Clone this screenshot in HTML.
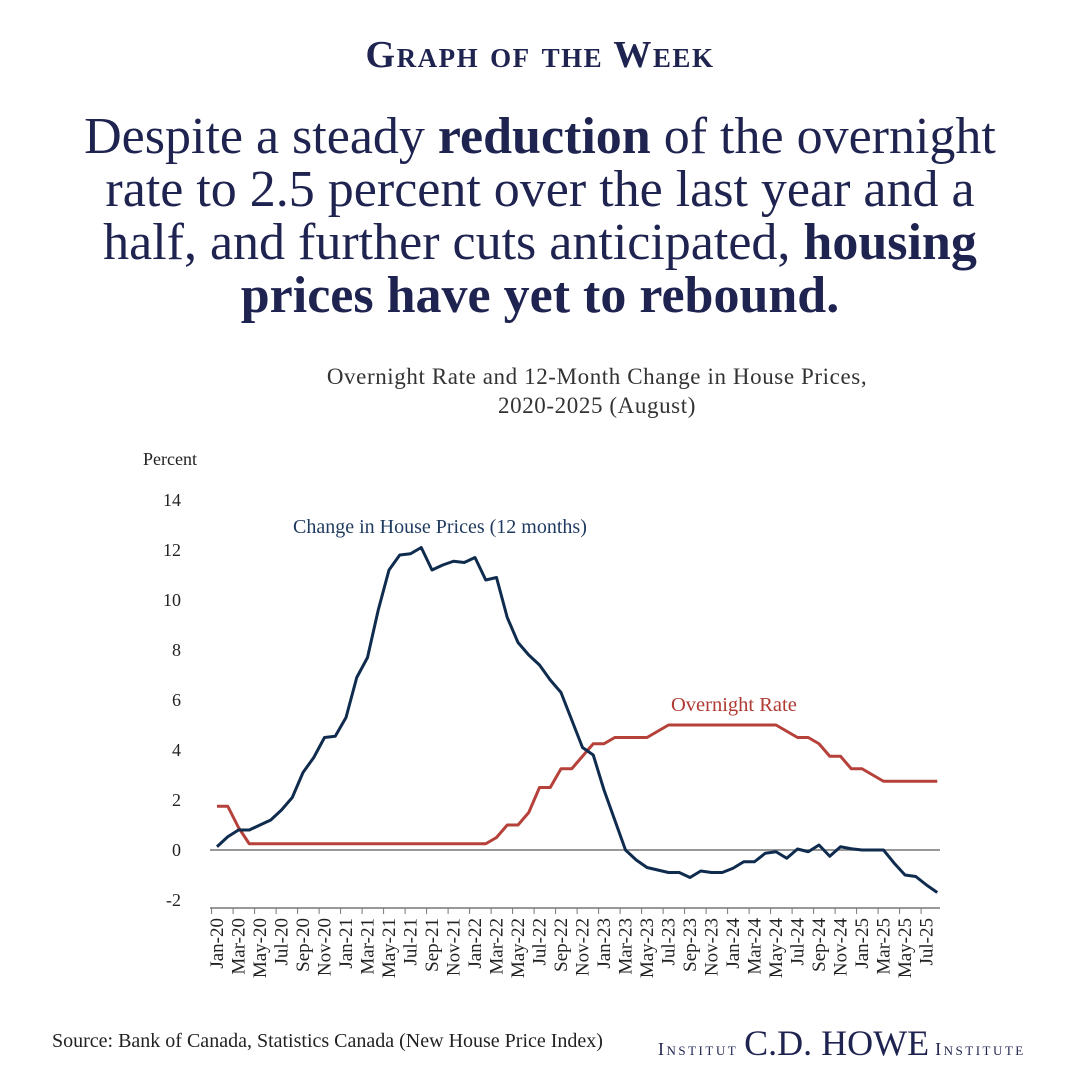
<!DOCTYPE html>
<html><head><meta charset="utf-8"><style>
body{margin:0;background:#fff;}
#wrap{position:relative;width:1080px;height:1080px;overflow:hidden;background:#fff;font-family:"Liberation Serif",serif;}
.abs{position:absolute;}
</style></head><body>
<div id="wrap">
<div class="abs" style="left:0;width:1080px;top:33px;text-align:center;color:#1f2350;font-size:38px;font-variant:small-caps;font-weight:bold;letter-spacing:1.5px;">Graph of the Week</div>
<div class="abs" style="left:0;width:1080px;top:110px;text-align:center;color:#1f2350;font-size:52px;line-height:53px;white-space:nowrap;">Despite a steady <b>reduction</b> of the overnight<br>rate to 2.5 percent over the last year and a<br>half, and further cuts anticipated, <b>housing</b><br><b>prices have yet to rebound.</b></div>
<div class="abs" style="left:250px;width:694px;top:362px;text-align:center;color:#333;font-size:23px;line-height:29px;letter-spacing:0.6px;">Overnight Rate and 12-Month Change in House Prices,<br>2020-2025 (August)</div>
<svg class="abs" style="left:0;top:0" width="1080" height="1080" id="chart"></svg>
<div class="abs" style="left:52px;top:1030px;font-size:20px;color:#222;">Source: Bank of Canada, Statistics Canada (New House Price Index)</div>
<div class="abs" style="left:658px;top:1022px;color:#1f2350;white-space:nowrap;">
<span style="font-size:18px;font-variant:small-caps;letter-spacing:2.5px;">Institut</span>
<span style="font-size:36px;margin:0 2px;">C.D. HOWE</span>
<span style="font-size:18px;font-variant:small-caps;letter-spacing:2.5px;">Institute</span></div>
</div>
<script>
const months=["Jan","Feb","Mar","Apr","May","Jun","Jul","Aug","Sep","Oct","Nov","Dec"];
const houseChange=[0.13,0.53,0.8,0.8,1.0,1.2,1.6,2.1,3.1,3.7,4.5,4.55,5.3,6.9,7.7,9.6,11.2,11.8,11.85,12.1,11.2,11.4,11.55,11.5,11.7,10.8,10.9,9.3,8.3,7.8,7.4,6.8,6.3,5.2,4.1,3.8,2.4,1.2,0.0,-0.4,-0.7,-0.8,-0.9,-0.9,-1.1,-0.84,-0.9,-0.9,-0.73,-0.47,-0.47,-0.13,-0.07,-0.33,0.04,-0.07,0.2,-0.25,0.13,0.05,0.0,0.0,0.0,-0.53,-1.0,-1.06,-1.4,-1.7];
const overnightRate=[1.75,1.75,0.9,0.25,0.25,0.25,0.25,0.25,0.25,0.25,0.25,0.25,0.25,0.25,0.25,0.25,0.25,0.25,0.25,0.25,0.25,0.25,0.25,0.25,0.25,0.25,0.5,1.0,1.0,1.5,2.5,2.5,3.25,3.25,3.75,4.25,4.25,4.5,4.5,4.5,4.5,4.75,5.0,5.0,5.0,5.0,5.0,5.0,5.0,5.0,5.0,5.0,5.0,4.75,4.5,4.5,4.25,3.75,3.75,3.25,3.25,3.0,2.75,2.75,2.75,2.75,2.75,2.75];
const yTicks=[14,12,10,8,6,4,2,0,-2];
const startYear=2020;
const NS="http://www.w3.org/2000/svg";
const svg=document.getElementById('chart');
const x=i=>217+10.75*i;
const y=v=>850-25*v;
function mk(t,a){const e=document.createElementNS(NS,t);for(const k in a)e.setAttribute(k,a[k]);svg.appendChild(e);return e;}
const pl=mk('text',{x:143,y:465,'font-size':18,fill:'#222','font-family':'Liberation Serif, serif'});pl.textContent='Percent';


yTicks.forEach(v=>{const t=mk('text',{x:181,y:y(v)+6,'text-anchor':'end','font-size':18,fill:'#222','font-family':'Liberation Serif, serif'});t.textContent=v<0?'-'+Math.abs(v):v;

});
const zl=mk('line',{x1:210,x2:940,y1:y(0),y2:y(0),stroke:'#777','stroke-width':1.5});


const ax=mk('line',{x1:210,x2:940,y1:908,y2:908,stroke:'#777','stroke-width':1.5});


for(let i=0;i<houseChange.length;i+=2){
 const tk=mk('line',{x1:x(i)-5.4,x2:x(i)-5.4,y1:908,y2:914,stroke:'#777','stroke-width':1});
 
 
 const lab=months[i%12]+'-'+String((startYear+Math.floor(i/12))%100).padStart(2,'0');
 const t=mk('text',{x:0,y:0,'text-anchor':'end','font-size':19,fill:'#222','font-family':'Liberation Serif, serif',transform:`translate(${x(i)+6},918) rotate(-90)`});t.textContent=lab;
 
 
}
function line(d,c,n){const p=mk('polyline',{points:d.map((v,i)=>x(i)+','+y(v)).join(' '),fill:'none',stroke:c,'stroke-width':3,'stroke-linejoin':'round'});

}
line(overnightRate,'#b5413a','overnight-rate-line');
line(houseChange,'#0f2c4f','house-price-change-line');
const l1=mk('text',{x:293,y:533,'font-size':20,fill:'#1f3a5f','font-family':'Liberation Serif, serif'});l1.textContent='Change in House Prices (12 months)';


const l2=mk('text',{x:671,y:711,'font-size':20.5,fill:'#b03a32','font-family':'Liberation Serif, serif'});l2.textContent='Overnight Rate';


</script>
</body></html>
